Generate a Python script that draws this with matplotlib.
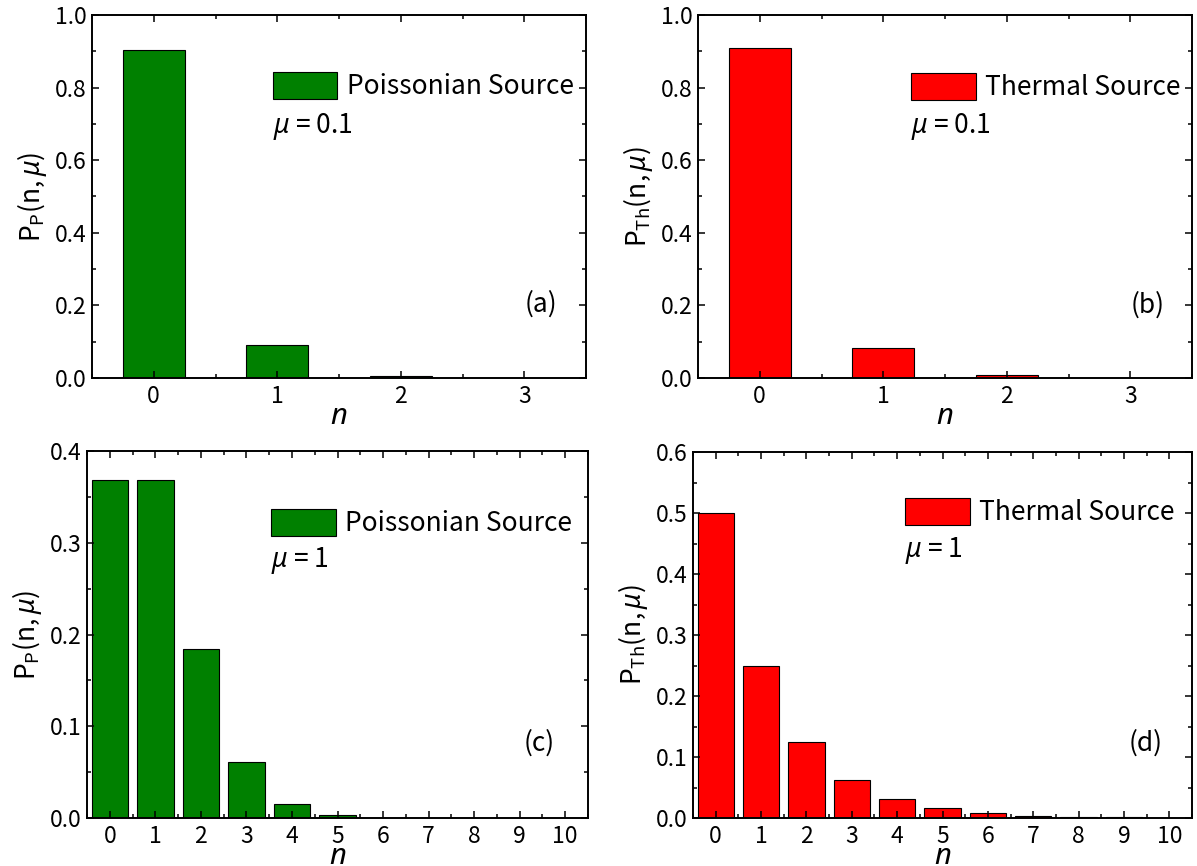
import matplotlib
matplotlib.use("Agg")
import matplotlib.pyplot as plt
from matplotlib.ticker import MultipleLocator, FormatStrFormatter

FONT = "Noto Sans CJK JP"
plt.rcParams["font.family"] = [FONT, "DejaVu Sans"]
plt.rcParams["mathtext.fontset"] = "custom"
plt.rcParams["mathtext.rm"] = FONT
plt.rcParams["mathtext.it"] = "Noto Sans:italic"

# Photon-number probabilities
n_low = [0, 1, 2, 3]
n_high = [0, 1, 2, 3, 4, 5, 6, 7, 8, 9, 10]

poisson_mu01 = [0.9048, 0.0905, 0.0045, 0.00015]
thermal_mu01 = [0.9091, 0.0826, 0.0075, 0.00068]
poisson_mu1 = [0.3679, 0.3679, 0.1839, 0.0613, 0.0153, 0.0031,
               0.0005, 0.00007, 0.00001, 0.0, 0.0]
thermal_mu1 = [0.5, 0.25, 0.125, 0.0625, 0.03125, 0.0156,
               0.0078, 0.0039, 0.00195, 0.00098, 0.00049]

GREEN = "#008000"
RED = "#ff0000"

W, H = 1197, 866
fig = plt.figure(figsize=(W / 100, H / 100), dpi=100)


def axes_px(left, right, top, bottom):
    return fig.add_axes([left / W, 1 - bottom / H, (right - left) / W, (bottom - top) / H])


panels = [
    dict(box=(92, 586, 15, 378), n=n_low, p=poisson_mu01, color=GREEN, width=0.5,
         ylim=1.0, ymaj=0.2, ymin=0.1, sub="P", name="Poissonian Source",
         mu="0.1", tag="(a)", leg=(0.366, 0.843), mupos=(0.366, 0.675), tagpos=(0.909, 0.204)),
    dict(box=(698, 1192, 15, 378), n=n_low, p=thermal_mu01, color=RED, width=0.5,
         ylim=1.0, ymaj=0.2, ymin=0.1, sub="Th", name="Thermal Source",
         mu="0.1", tag="(b)", leg=(0.431, 0.840), mupos=(0.431, 0.675), tagpos=(0.910, 0.200)),
    dict(box=(87, 588, 451, 818), n=n_high, p=poisson_mu1, color=GREEN, width=0.8,
         ylim=0.4, ymaj=0.1, ymin=0.05, sub="P", name="Poissonian Source",
         mu="1", tag="(c)", leg=(0.367, 0.842), mupos=(0.367, 0.684), tagpos=(0.902, 0.204)),
    dict(box=(693, 1192, 452, 818), n=n_high, p=thermal_mu1, color=RED, width=0.8,
         ylim=0.6, ymaj=0.1, ymin=0.05, sub="Th", name="Thermal Source",
         mu="1", tag="(d)", leg=(0.425, 0.874), mupos=(0.425, 0.713), tagpos=(0.908, 0.204)),
]

for cfg in panels:
    ax = axes_px(*cfg["box"])
    bars = ax.bar(cfg["n"], cfg["p"], width=cfg["width"], color=cfg["color"],
                  edgecolor="black", linewidth=0.8, label=cfg["name"])
    ax.set_xlim(-0.5, cfg["n"][-1] + 0.5)
    ax.set_ylim(0, cfg["ylim"])
    ax.set_xticks(cfg["n"])
    ax.xaxis.set_minor_locator(MultipleLocator(0.5))
    ax.yaxis.set_major_locator(MultipleLocator(cfg["ymaj"]))
    ax.yaxis.set_minor_locator(MultipleLocator(cfg["ymin"]))
    ax.yaxis.set_major_formatter(FormatStrFormatter("%.1f"))
    ax.tick_params(which="both", direction="in", top=True, right=True, width=1.1,
                   labelsize=16.5, colors="black")
    ax.tick_params(which="major", length=5)
    ax.tick_params(which="minor", length=3)
    ax.tick_params(axis="x", which="major", pad=5)
    ax.tick_params(axis="y", which="major", pad=4)
    for sp in ax.spines.values():
        sp.set_linewidth(1.4)

    ax.set_xlabel(r"$\mathit{n}$", fontsize=21, labelpad=-5)
    ax.set_ylabel(r"$\mathrm{P}_{\mathrm{%s}}\mathrm{(n,}\mathit{\mu}\mathrm{)}$" % cfg["sub"],
                  fontsize=19, labelpad=4)

    ax.legend(handles=[bars], loc="upper left", bbox_to_anchor=cfg["leg"],
              frameon=False, fontsize=19, borderpad=0, borderaxespad=0,
              handlelength=2.45, handleheight=1.17, handletextpad=0.35)
    ax.text(*cfg["mupos"], r"$\mathit{\mu}$ = " + cfg["mu"], transform=ax.transAxes,
            fontsize=19, ha="left", va="baseline")
    ax.text(*cfg["tagpos"], cfg["tag"], transform=ax.transAxes,
            fontsize=19, ha="center", va="center")

fig.savefig("out.png", dpi=100)
